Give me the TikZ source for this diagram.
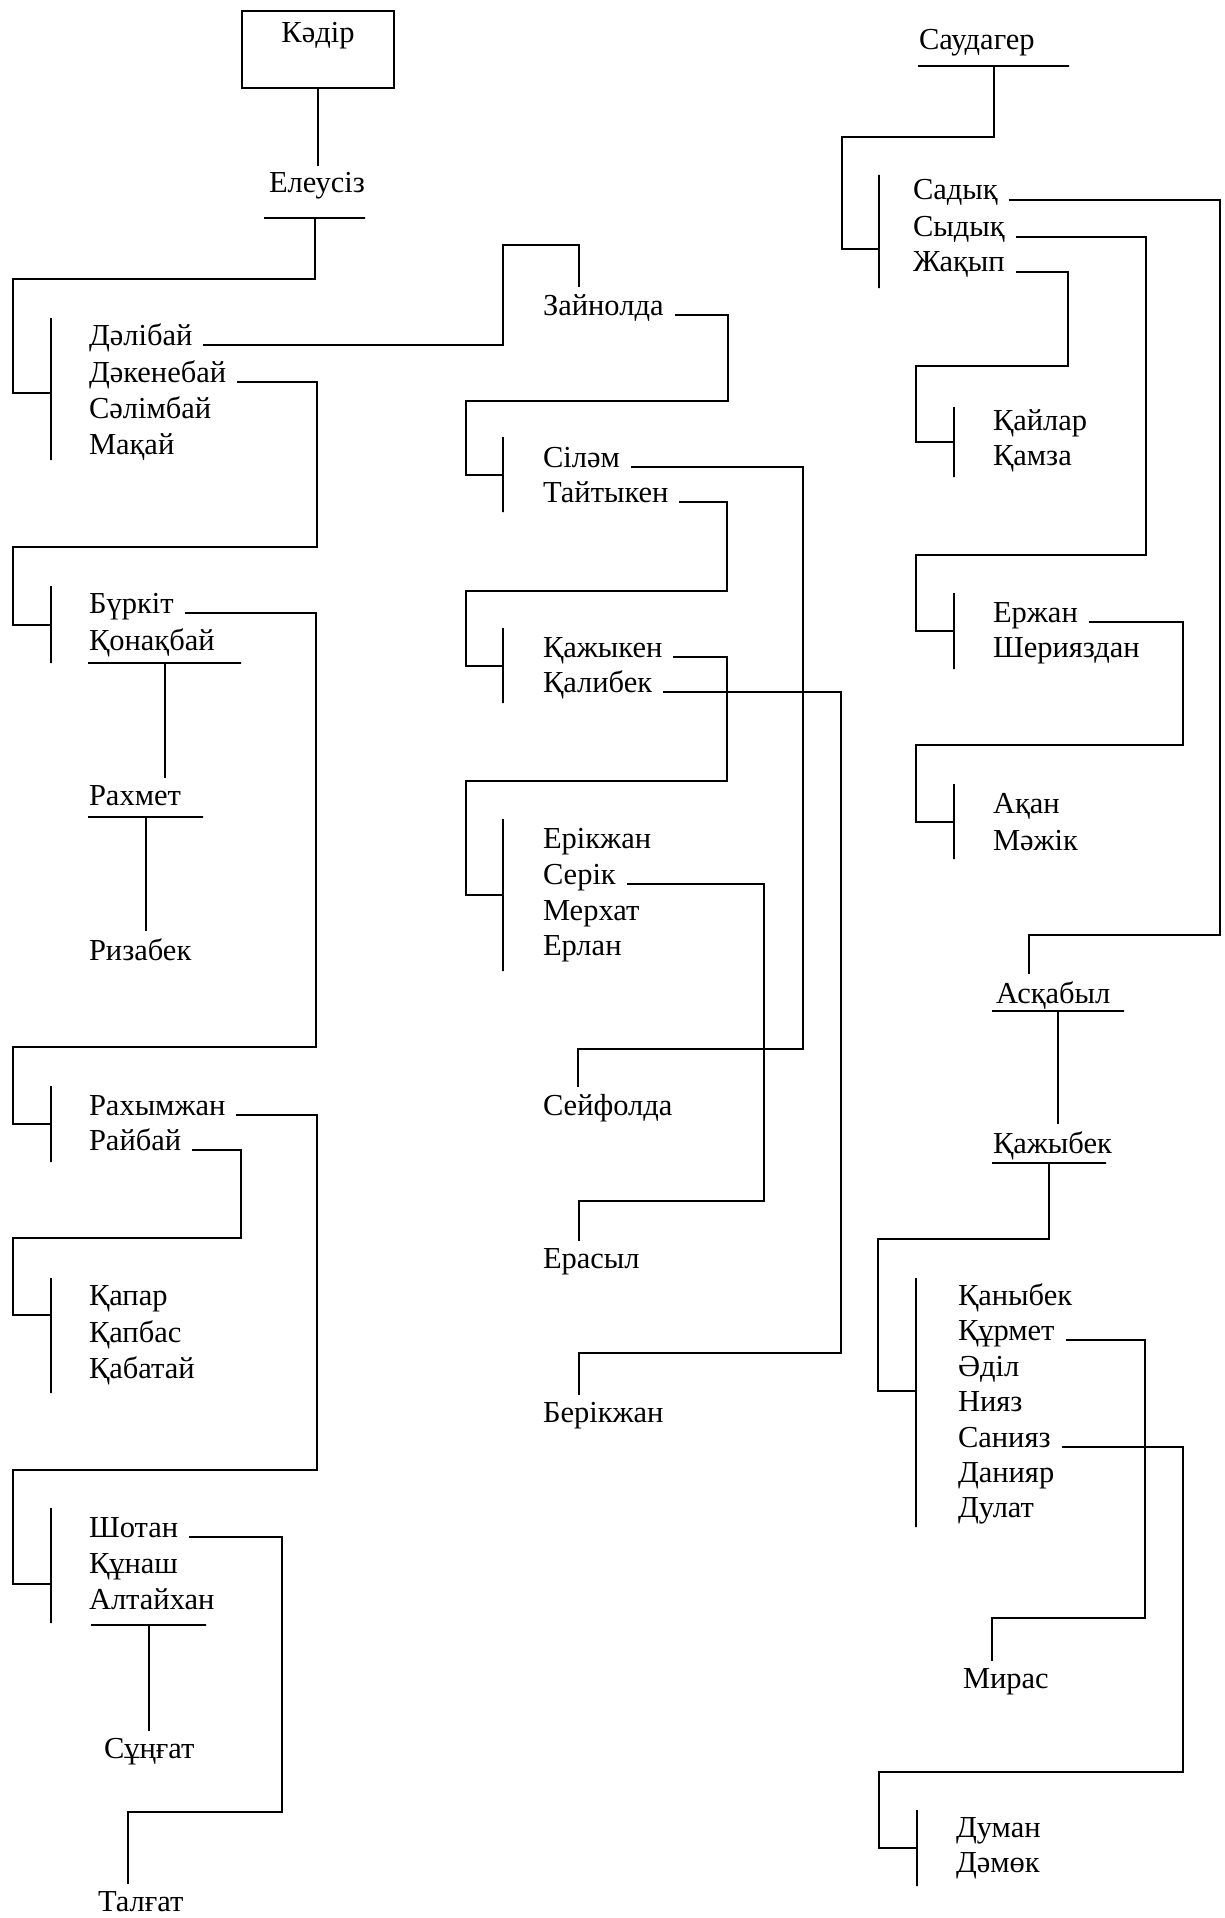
\documentclass[tikz,border=0pt]{standalone}
\usepackage{fontspec}
\setmainfont{Liberation Serif}
\usetikzlibrary{positioning}

\begin{document}
\begin{tikzpicture}[
  x=1pt, y=-1pt,
  line width=2pt,
  person/.style={
    anchor=base west, xshift=-10pt,
    inner xsep=10pt, inner ysep=6pt,
    font=\fontsize{30.5}{36}\selectfont
  },
  single/.style={
    anchor=base, inner xsep=10pt, inner ysep=6pt,
    font=\fontsize{30.5}{36}\selectfont
  },
  rootbox/.style={
    rectangle, draw, minimum width=152pt, minimum height=77pt,
    text height=28pt, text depth=41pt, inner sep=4pt,
    font=\fontsize{30.5}{36}\selectfont
  },
  bar/.style={draw, inner sep=0pt, minimum height=0pt},
  brk/.style={draw, inner sep=0pt, minimum width=0pt}
]
\useasboundingbox (0,0) rectangle (1224,1918);

% ==================== LEFT BRANCH ====================

% Root
\node (kadir) [rootbox] at (318,49.5) {Кәдір};
\node (eleusiz) [single] at (317,193) {Елеусіз};
\node (eleusizbar) [bar, minimum width=101pt] at (314.5,218) {};

% Sons of Елеусіз
\node (dalibay)   [person] at (88,345) {Дәлібай};
\node (dakenebay) [person] at (88,382) {Дәкенебай};
\node (salimbay)  [person] at (88,418) {Сәлімбай};
\node (makay)     [person] at (88,454) {Мақай};
\node (br1) [brk, minimum height=142pt] at (51,389) {};

% Sons of Дәкенебай
\node (burkit)   [person] at (88,613) {Бүркіт};
\node (konakbay) [person] at (88,650) {Қонақбай};
\node (br2) [brk, minimum height=77pt] at (51,624.5) {};
\node (konakbaybar) [bar, minimum width=153pt] at (164.5,663) {};

\node (rakhmet) [person] at (88,805) {Рахмет};
\node (rakhmetbar) [bar, minimum width=115pt] at (145.5,817) {};
\node (rizabek) [person] at (88,960) {Ризабек};

% Sons of Бүркіт
\node (rakhymzhan) [person] at (88,1115) {Рахымжан};
\node (raybay)     [person] at (88,1150) {Райбай};
\node (br3) [brk, minimum height=76pt] at (51,1124) {};

% Sons of Райбай
\node (qapar)   [person] at (88,1305) {Қапар};
\node (qapbas)  [person] at (88,1342) {Қапбас};
\node (qabatay) [person] at (88,1378) {Қабатай};
\node (br4) [brk, minimum height=115pt] at (51,1335.5) {};

% Sons of Рахымжан
\node (shotan)    [person] at (88,1537) {Шотан};
\node (qunash)    [person] at (88,1573) {Құнаш};
\node (altaykhan) [person] at (88,1609) {Алтайхан};
\node (br5) [brk, minimum height=115pt] at (51,1565.5) {};
\node (altaykhanbar) [bar, minimum width=115pt] at (148.5,1625) {};

\node (sungat) [person] at (103,1758) {Сұңғат};
\node (talgat) [person] at (97,1911) {Талғат};

% ==================== MIDDLE BRANCH ====================

\node (zaynolda) [person] at (542,315) {Зайнолда};

\node (silam)    [person] at (542,467) {Сіләм};
\node (taytyken) [person] at (542,502) {Тайтыкен};
\node (br6) [brk, minimum height=75pt] at (503,474.5) {};

\node (qazhyken) [person] at (542,657) {Қажыкен};
\node (qalibek)  [person] at (542,692) {Қалибек};
\node (br7) [brk, minimum height=75pt] at (503,665.5) {};

\node (erikzhan) [person] at (542,848) {Ерікжан};
\node (serik)    [person] at (542,884) {Серік};
\node (merkhat)  [person] at (542,920) {Мерхат};
\node (erlan)    [person] at (542,955) {Ерлан};
\node (br8) [brk, minimum height=152pt] at (503,895) {};

\node (seyfolda)  [person] at (542,1115) {Сейфолда};
\node (erasyl)    [person] at (542,1268) {Ерасыл};
\node (berikzhan) [person] at (542,1422) {Берікжан};

% ==================== RIGHT BRANCH ====================

\node (saudager) [person] at (918,50) {Саудагер};
\node (saudagerbar) [bar, minimum width=151pt] at (993.5,66) {};

\node (sadyq)  [person] at (912,200) {Садық};
\node (sydyq)  [person] at (912,237) {Сыдық};
\node (zhaqyp) [person] at (912,272) {Жақып};
\node (br9) [brk, minimum height=113pt] at (879,231.5) {};

\node (qaylar) [person] at (992,430) {Қайлар};
\node (qamza)  [person] at (992,465) {Қамза};
\node (br10) [brk, minimum height=70pt] at (954,442) {};

\node (erzhan)      [person] at (992,622) {Ержан};
\node (sheriyazdan) [person] at (992,657) {Шерияздан};
\node (br11) [brk, minimum height=76pt] at (954,631) {};

\node (aqan)   [person] at (992,813) {Ақан};
\node (mazhik) [person] at (992,850) {Мәжік};
\node (br12) [brk, minimum height=75pt] at (954,821.5) {};

\node (asqabyl) [person] at (995,1003) {Асқабыл};
\node (asqabylbar) [bar, minimum width=132pt] at (1058,1011) {};
\node (qazhybek) [person] at (992,1153) {Қажыбек};
\node (qazhybekbar) [bar, minimum width=114pt] at (1049,1163) {};

\node (qanybek) [person] at (957,1305) {Қаныбек};
\node (qurmet)  [person] at (957,1340) {Құрмет};
\node (adil)    [person] at (957,1376) {Әділ};
\node (niyaz)   [person] at (957,1411) {Нияз};
\node (saniyaz) [person] at (957,1447) {Санияз};
\node (daniyar) [person] at (957,1482) {Данияр};
\node (dulat)   [person] at (957,1517) {Дулат};
\node (br13) [brk, minimum height=249pt] at (916,1402.5) {};

\node (miras) [person] at (962,1688) {Мирас};

\node (duman) [person] at (955,1837) {Думан};
\node (damok) [person] at (955,1872) {Дәмөк};
\node (br14) [brk, minimum height=76pt] at (917,1848) {};

% ==================== LINKS ====================

% left
\draw (kadir.south) -- (kadir.south |- eleusiz.north);
\draw (eleusizbar.center) |- (13,279) |- ([yshift=-4pt]br1.center);
\draw (dakenebay.base east) -| (317,547) -- (13,547) |- (br2.center);
\draw (konakbaybar.center) -- (konakbaybar.center |- rakhmet.north);
\draw (rakhmetbar.center) -- (rakhmetbar.center |- rizabek.north);
\draw (burkit.base east) -| (316,1047) -- (13,1047) |- (br3.center);
\draw (raybay.base east) -| (241,1238) -- (13,1238) |- ([yshift=20.5pt]br4.center);
\draw (rakhymzhan.base east) -| (317,1470) -- (13,1470) |- ([yshift=-18.5pt]br5.center);
\draw (altaykhanbar.center) -- (altaykhanbar.center |- sungat.north);
\draw (shotan.base east) -| (282,1812) -| (128,0 |- talgat.north);

% middle
\draw (dalibay.base east) -| (503,245) -| (579,0 |- zaynolda.north);
\draw (zaynolda.base east) -| (728,401) -- (466,401) |- (br6.center);
\draw (silam.base east) -| (803,1049) -| (578,0 |- seyfolda.north);
\draw (taytyken.base east) -| (727,591) -- (466,591) |- (br7.center);
\draw (qazhyken.base east) -| (727,781) -- (466,781) |- (br8.center);
\draw (qalibek.base east) -| (841,1353) -| (579,0 |- berikzhan.north);
\draw (serik.base east) -| (764,1201) -| (579,0 |- erasyl.north);

% right
\draw (saudagerbar.center) |- (842,137) |- ([yshift=-17.5pt]br9.center);
\draw (sadyq.base east) -| (1220,935) -| (1029,0 |- asqabyl.north);
\draw (sydyq.base east) -| (1146,555) -- (916,555) |- (br11.center);
\draw (zhaqyp.base east) -| (1068,366) -- (916,366) |- (br10.center);
\draw (erzhan.base east) -| (1183,745) -- (916,745) |- (br12.center);
\draw (asqabylbar.center) -- (asqabylbar.center |- qazhybek.north);
\draw (qazhybekbar.center) |- (878,1239) |- ([yshift=11.5pt]br13.center);
\draw (qurmet.base east) -| (1145,1618) -| (992,0 |- miras.north);
\draw (saniyaz.base east) -| (1183,1772) -- (879,1772) |- (br14.center);

\end{tikzpicture}
\end{document}
